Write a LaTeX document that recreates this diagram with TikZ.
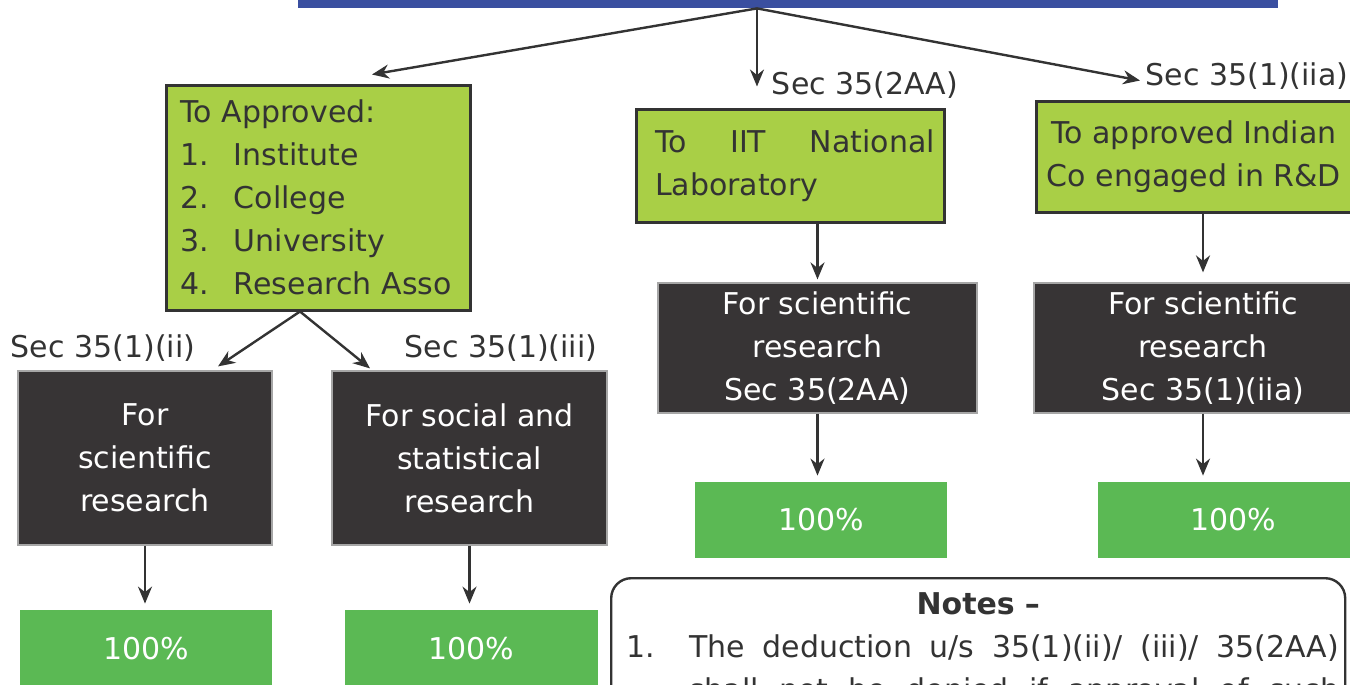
\documentclass[tikz,border=0pt]{standalone}
\usepackage{fontspec}
\setmainfont{DejaVu Sans}
\usetikzlibrary{arrows.meta}
\definecolor{barblue}{HTML}{3A4FA0}
\definecolor{limegreen}{HTML}{A9CF46}
\definecolor{charcoal}{HTML}{373435}
\definecolor{pctgreen}{HTML}{5BB954}
\definecolor{inkgray}{HTML}{333333}

\begin{document}
\begin{tikzpicture}[x=0.5pt,y=-0.5pt,
	every node/.style={font=\fontsize{15}{21.5}\selectfont, text=inkgray},
	limebox/.style={draw=inkgray, line width=1.5pt, fill=limegreen, inner sep=0pt},
	darkbox/.style={draw=gray!70, line width=0.6pt, fill=charcoal, text=white, align=center, inner sep=0pt},
	pctbox/.style={fill=pctgreen, text=white, inner sep=0pt},
	arr/.style={draw=inkgray, line width=1.2pt, -{Stealth[length=8.5pt,width=7pt]}}]
	\useasboundingbox (0,0) rectangle (1350,685);
	\clip (0,0) rectangle (1350,685);
	\node[fill=barblue, minimum width=490pt, minimum height=14pt, inner sep=0pt] (bar) at (788,-6) {};
	\coordinate (apex) at ([xshift=-15.5pt]bar.south);
	\node[limebox, minimum width=152pt, minimum height=112.5pt, text width=138pt, align=left] (appr) at (318,197.5)
		{To Approved:\\ \makebox[27pt][l]{1.}Institute\\ \makebox[27pt][l]{2.}College\\ \makebox[27pt][l]{3.}University\\ \makebox[27pt][l]{4.}Research Asso};
	\node[limebox, minimum width=154pt, minimum height=56.5pt, text width=150pt, align=left] (lab) at (790,165.5)
		{\hspace*{7.5pt}\makebox[140pt][s]{To\hfill IIT\hfill National}\\ \hspace*{7.5pt}Laboratory};
	\node[limebox, minimum width=157.5pt, minimum height=55.5pt, align=center] (indco) at (1194,156.5)
		{To approved Indian\\ Co engaged in R\&D};
	\node (s2aa) at (865,85) {Sec 35(2AA)};
	\node (s1iia) at (1247,76) {Sec 35(1)(iia)};
	\node (s1ii) at (103,348) {Sec 35(1)(ii)};
	\node (s1iii) at (501,348) {Sec 35(1)(iii)};
	\node[darkbox, minimum width=127pt, minimum height=87pt] (sci1) at (145,458) {For\\ scientific\\ research};
	\node[darkbox, minimum width=137.5pt, minimum height=87pt] (soc) at (469.5,458) {For social and\\ statistical\\ research};
	\node[darkbox, minimum width=159.5pt, minimum height=65pt] (sci2) at (817.5,348) {For scientific\\ research\\ Sec 35(2AA)};
	\node[darkbox, minimum width=169pt, minimum height=65pt] (sci3) at (1203,348) {For scientific\\ research\\ Sec 35(1)(iia)};
	\node[pctbox, minimum width=126pt, minimum height=39pt] (p1) at (146,649) {100\%};
	\node[pctbox, minimum width=126.5pt, minimum height=39pt] (p2) at (471.5,649) {100\%};
	\node[pctbox, minimum width=126pt, minimum height=38pt] (p3) at (821,520) {100\%};
	\node[pctbox, minimum width=135pt, minimum height=38pt] (p4) at (1233,520) {100\%};
	\node[draw=inkgray, line width=1.2pt, rounded corners=10pt, anchor=north west, minimum width=367pt,
		text width=352pt, inner xsep=7.5pt, inner ysep=7pt, align=left] (notes) at (610,577)
		{{\centering\bfseries Notes --\par}
		\makebox[31.5pt][l]{1.}\makebox[325pt][s]{\spaceskip=.32em plus 2em The deduction u/s 35(1)(ii)/ (iii)/ 35(2AA)}\\
		\hspace*{31.5pt}\makebox[325pt][s]{\spaceskip=.32em plus 2em shall not be denied if approval of such}\par\vspace*{60pt}};
	\draw[arr] (apex) -- ([xshift=27pt,yshift=4.5pt]appr.north);
	\draw[arr] (apex) -- ([xshift=-16.5pt,yshift=10.5pt]lab.north);
	\draw[arr] (apex) -- ([xshift=-27pt,yshift=9.5pt]indco.north);
	\draw[arr] ([xshift=-9pt]appr.south) -- ([xshift=36.5pt,yshift=2pt]sci1.north);
	\draw[arr] ([xshift=-9pt]appr.south) -- ([xshift=-49.75pt,yshift=1pt]soc.north);
	\draw[arr] (lab.south -| sci2.north) -- ([yshift=1.5pt]sci2.north);
	\draw[arr] (indco.south -| sci3.north) -- ([yshift=5pt]sci3.north);
	\foreach \a/\b in {sci1/p1,soc/p2,sci2/p3,sci3/p4}
		\draw[arr, shorten >=3pt] (\a.south) -- (\a.south |- \b.north);
\end{tikzpicture}
\end{document}
